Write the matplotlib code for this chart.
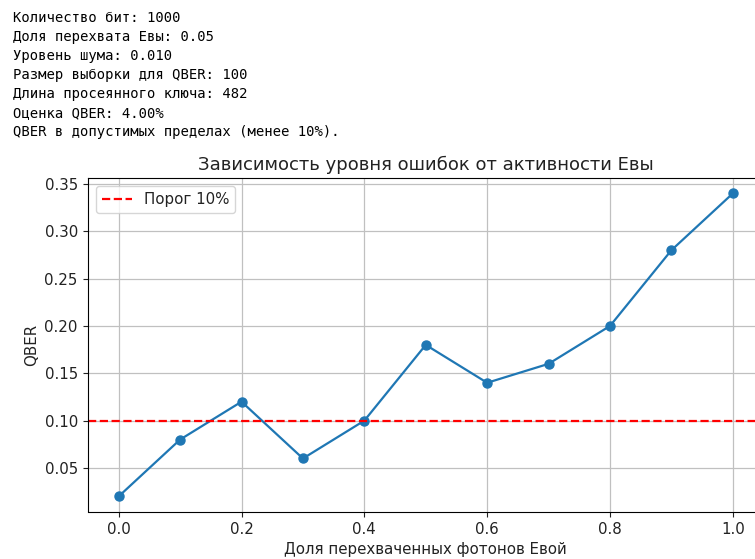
import numpy as np
import matplotlib
matplotlib.use('Agg')
import matplotlib.pyplot as plt

# printed output lines above the chart
info_lines = [
    'Количество бит: 1000',
    'Доля перехвата Евы: 0.05',
    'Уровень шума: 0.010',
    'Размер выборки для QBER: 100',
    'Длина просеянного ключа: 482',
    'Оценка QBER: 4.00%',
    'QBER в допустимых пределах (менее 10%).',
]

# fraction of intercepted photons vs. QBER
eve_fraction = [0.0, 0.1, 0.2, 0.3, 0.4, 0.5, 0.6, 0.7, 0.8, 0.9, 1.0]
qber = [0.02, 0.08, 0.12, 0.06, 0.10, 0.18, 0.14, 0.16, 0.20, 0.28, 0.34]
threshold = 0.10

# the chart image in the reference is a bit enlarged vs. the printed text
plt.rcParams['font.size'] = 10.8
plt.rcParams['text.color'] = '#222222'
plt.rcParams['axes.labelcolor'] = '#222222'
plt.rcParams['xtick.color'] = '#222222'
plt.rcParams['ytick.color'] = '#222222'
plt.rcParams['xtick.major.size'] = 3.8
plt.rcParams['ytick.major.size'] = 3.8

W, H = 755, 559
fig = plt.figure(figsize=(W / 100, H / 100), dpi=100)

for i, line in enumerate(info_lines):
    fig.text(13 / W, 1 - (18 + 19 * i) / H, line, family='DejaVu Sans Mono',
             fontsize=10, va='center', ha='left', color='black')

ax = fig.add_axes([88 / W, 47.5 / H, 675.5 / W, 333.2 / H])
ax.plot(eve_fraction, qber, marker='o', color='tab:blue', linewidth=1.6,
        markersize=6.5)
ax.axhline(threshold, color='red', linestyle='--', linewidth=1.6,
           label='Порог 10%')
ax.set_title('Зависимость уровня ошибок от активности Евы', fontsize=13)
ax.set_xlabel('Доля перехваченных фотонов Евой')
ax.set_ylabel('QBER')
ax.legend(loc='upper left')
ax.grid(True, color='#c0c0c0', linewidth=0.9)

fig.savefig('out.png', dpi=100)
